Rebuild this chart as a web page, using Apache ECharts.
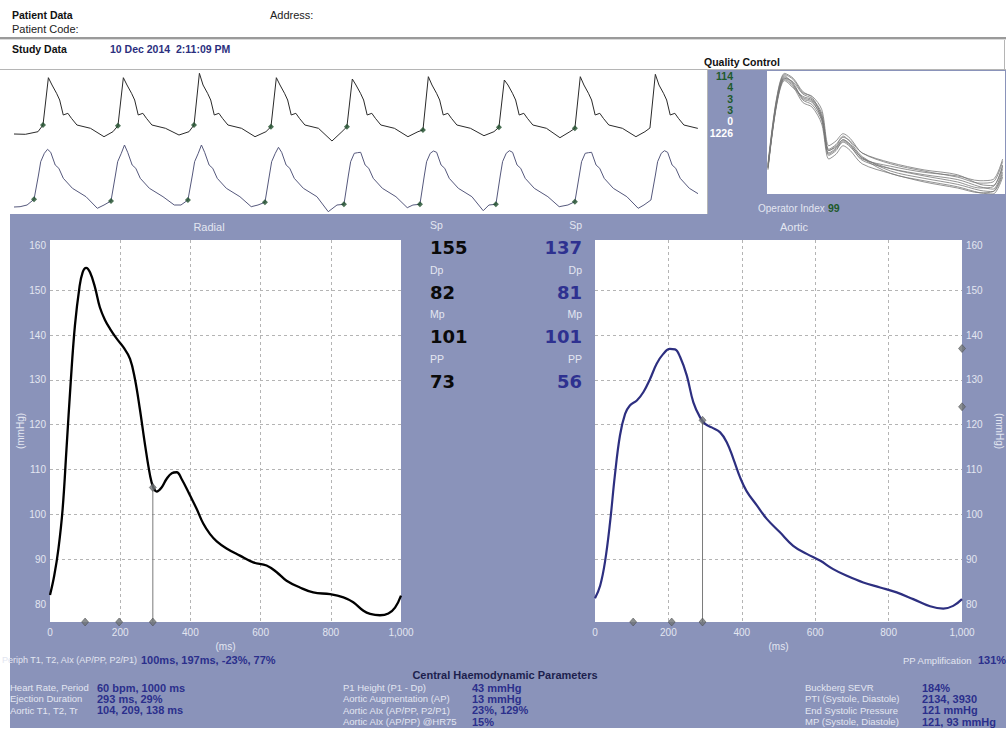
<!DOCTYPE html>
<html><head><meta charset="utf-8">
<script src="https://cdn.jsdelivr.net/npm/echarts@6/dist/echarts.min.js"></script>
<style>
html,body{margin:0;padding:0;background:#fff;}
body{width:1006px;height:730px;overflow:hidden;position:relative;}
.bg{position:absolute;}
#chart{position:absolute;left:0;top:0;width:1006px;height:730px;}
</style></head><body>
<div class="bg" style="left:10px;top:214px;width:996px;height:514px;background:#8a93ba"></div>
<div class="bg" style="left:708px;top:70px;width:298px;height:144px;background:#8a93ba"></div>
<div class="bg" style="left:767px;top:71px;width:238px;height:123px;background:#fff"></div>
<div class="bg" style="left:0;top:37px;width:1006px;height:2px;background:#9a9a9a"></div>
<div class="bg" style="left:0;top:39px;width:1006px;height:1px;background:#dadada"></div>
<div class="bg" style="left:0;top:69px;width:1006px;height:1px;background:#b5b5b5"></div>
<div class="bg" style="left:1004px;top:40px;width:1px;height:30px;background:#b5b5b5"></div>
<div class="bg" style="left:707px;top:69px;width:1px;height:145px;background:#b5b5b5"></div>
<div id="chart"></div>
<script>
// ---------- data ----------
const timeTicks = [0, 200, 400, 600, 800, 1000];
const pressureTicks = [80, 90, 100, 110, 120, 130, 140, 150, 160];

const radialTime = [0,12,24,36,47,59,71,84,93,103,114,128,142,157,171,190,209,228,242,256,271,285,294,304,318,332,347,361,375,399,418,437,456,475,503,541,579,617,646,674,712,750,798,836,864,893,912,940,964,983,1000];
const radialPressure = [82,86.3,92.3,101.2,114.6,129.5,142.1,150.7,154,155,154,150.7,146.2,143.3,141.4,139.2,137.3,134.7,130.2,123.5,115.4,108.7,106.1,105.1,106,107.9,109.2,109.4,107.9,104.2,101.2,97.9,95.6,94,92.4,90.8,89.3,88.6,87.1,85.2,83.7,82.6,82.2,81.5,80.4,78.5,77.8,77.5,77.9,79.2,81.9];

const aorticTime = [0,14,27,41,54,68,82,95,114,132,150,168,186,204,218,232,250,268,286,300,318,341,359,377,395,413,441,468,504,540,577,613,649,686,731,777,822,867,913,949,976,1000];
const aorticPressure = [81.3,84.1,89.3,98.2,108.6,117.6,122.4,124.3,125.4,127.3,130.2,133.6,135.8,136.9,136.8,135.1,131,125,121.7,120.2,119.4,118.3,116.1,112.4,108.3,105.2,102,99,96,93,91.2,89.7,87.8,86.3,84.8,83.7,82.6,81.1,79.5,79,79.6,81.1];

const radialMarkerTimes = [100, 197, 293];
const radialEndSystolic = 106;
const aorticMarkerTimes = [104, 209, 293];
const aorticEndSystolic = 121;
const aorticEdgeMarks = [137, 124];
const ejectionTime = 293;

const centralLabels = ['Sp', 'Dp', 'Mp', 'PP'];
const radialValues = [155, 82, 101, 73];
const aorticValues = [137, 81, 101, 56];

// raw pulse strip (upper = radial raw trace, lower = derived trace)
const stripTopLead = [[0, 2], [150, 1.7]];
const stripTopOnsets = [382, 1370, 2372, 3386, 4387, 5389, 6390, 7391, 8380];
const stripTopOffsets = [-66, 0, 71, 119, 179, 220, 267, 328, 375, 447, 626, 804];
const stripTopShape = [4.3, 11, 58.3, 51, 42.7, 36, 21, 22.7, 17.7, 11, 7.7, 1];
const stripTopFeet = [11, 10.3, 11, 9.3, 9.3, 6, 8.7, 7.7, 8];
const stripTopPeaks = [58.3, 58.3, 62.7, 58.3, 57, 59.3, 56, 59.3, 61.7];
const stripTopTroughs = [-0.7, 1, -0.7, -5, -0.7, 0.3, -1.7, -0.7, -1];

const stripBotLead = [[0, 5], [80, 5.3]];
const stripBotOnsets = [264, 1278, 2292, 3307, 4348, 5349, 6350, 7391, 8393];
const stripBotOffsets = [-92, 0, 59, 88, 136, 178, 220, 279, 327, 386, 506, 685, 834];
const stripBotShape = [7, 12.7, 37, 50.3, 58.7, 62.7, 59.7, 47, 43.7, 33.7, 23.7, 15.3, 5.3];
const stripBotFeet = [12.7, 11, 12, 9.7, 7.7, 7.7, 7.7, 10.3, 12];
const stripBotPeaks = [62.7, 67, 67, 64.7, 59.3, 61, 61.3, 59.3, 61.3];
const stripBotTroughs = [3.7, 7, 5.3, 0.3, 4.3, 1.3, 5.3, 3.7, 4];

// quality control overlay
const qcX = [0.4, 4, 7.4, 11, 15, 19, 23, 26, 29, 32, 35, 40, 52, 66, 80, 89.5, 95, 99];
const qcTrace1 = [22, 76, 97, 92, 79, 76, 63, 34, 38, 45, 41, 30, 21, 15, 10, 5, 6, 23];
const qcTrace2 = [24, 78, 99, 95, 84, 81, 70, 40, 44, 50, 46, 34, 25, 19, 14, 9, 10, 27];
const qcTrace3 = [20, 74, 95, 89, 76, 72, 58, 29, 33, 40, 36, 25, 17, 10, 5, 1, 2, 18];
const qcTrace4 = [23, 75, 96, 93, 83, 79, 67, 37, 41, 48, 43, 31, 19, 13, 8, 3, 2, 16];
const qcTrace5 = [21, 77, 98, 91, 78, 74, 61, 33, 37, 43, 39, 29, 23, 18, 15, 11, 12, 29];
const qcTrace6 = [22, 73, 94, 88, 81, 78, 65, 36, 40, 47, 44, 34, 26, 20, 16, 8, 7, 24];
const qcTrace7 = [25, 79, 100, 96, 85, 80, 64, 36, 39, 45, 41, 30, 17, 11, 6, 1, 0, 14];
const qcTrace8 = [22, 75, 96, 90, 80, 77, 62, 32, 36, 44, 40, 28, 21, 16, 12, 6, 4, 21];
const qcCounts = ['114', '4', '3', '3', '0', '1226'];
const operatorIndex = '99';

// ---------- build ----------
function buildStrip(lead, onsets, offsets, shape, overrides) {
  const out = lead.slice();
  onsets.forEach((on, b) => {
    offsets.forEach((dt, k) => {
      let v = shape[k];
      if (overrides[k]) v = overrides[k][b];
      out.push([on + dt, v]);
    });
  });
  return out;
}
const stripTopData = buildStrip(stripTopLead, stripTopOnsets, stripTopOffsets, stripTopShape, {1: stripTopFeet, 2: stripTopPeaks, 11: stripTopTroughs});
const stripBotData = buildStrip(stripBotLead, stripBotOnsets, stripBotOffsets, stripBotShape, {1: stripBotFeet, 5: stripBotPeaks, 12: stripBotTroughs});
const stripTopMarks = stripTopOnsets.slice(0, 8).map((t, i) => [t, stripTopFeet[i]]);
const stripBotMarks = stripBotOnsets.slice(0, 8).map((t, i) => [t, stripBotFeet[i]]);

const FONT = '"Liberation Sans", Arial, sans-serif';
const LIGHT = '#e3e6f1';
const NAVY = '#2b2f8c';
function txt(x, y, s, o) {
  o = o || {};
  const al = o.a || 'left';
  return {type: 'text', x: x, y: y, silent: true, z: 50,
    style: {text: s, fill: o.c || LIGHT, font: (o.w || 'normal') + ' ' + (o.s || 10) + 'px ' + (o.f || FONT),
      textAlign: al, align: al, textVerticalAlign: 'middle', verticalAlign: 'middle'}};
}

const graphics = [
  txt(12, 15, 'Patient Data', {w: 'bold', s: 10.5, c: '#111'}),
  txt(270, 15, 'Address:', {s: 11, c: '#222'}),
  txt(12, 29, 'Patient Code:', {s: 11, c: '#222'}),
  txt(12, 49, 'Study Data', {w: 'bold', s: 10.5, c: '#111'}),
  txt(110, 49, '10 Dec 2014\u00a0\u00a02:11:09 PM', {w: 'bold', s: 10.5, c: '#2b2f7e'}),
  txt(704, 62, 'Quality Control', {w: 'bold', s: 10.5, c: '#111'}),
  txt(758, 208, 'Operator Index', {s: 10, c: LIGHT}),
  txt(828, 208, operatorIndex, {w: 'bold', s: 10.5, c: '#1e5a2b'}),
  txt(209, 227, 'Radial', {s: 11, a: 'center'}),
  txt(794, 227, 'Aortic', {s: 11, a: 'center'}),
  txt(2, 660, 'Periph T1, T2, AIx (AP/PP, P2/P1)', {s: 9}),
  txt(141, 660, '100ms, 197ms, -23%, 77%', {w: 'bold', s: 11, c: NAVY}),
  txt(903, 660, 'PP Amplification', {s: 9.5}),
  txt(978, 660, '131%', {w: 'bold', s: 11, c: NAVY}),
  txt(505, 675, 'Central Haemodynamic Parameters', {w: 'bold', s: 11, c: '#1c1f4e', a: 'center'})
];
qcCounts.forEach((s, i) => {
  graphics.push(txt(733, 76 + i * 11.3, s, {w: 'bold', s: 10.5, a: 'right', c: i < 4 ? '#1e5a2b' : '#ffffff'}));
});
centralLabels.forEach((lab, i) => {
  const y0 = 225 + i * 44.6;
  graphics.push(txt(430, y0, lab, {s: 10.5}));
  graphics.push(txt(582, y0, lab, {s: 10.5, a: 'right'}));
  graphics.push(txt(430, y0 + 22.5, String(radialValues[i]), {w: 'bold', s: 18, f: '"DejaVu Sans", Verdana, sans-serif', c: '#0a0a0a'}));
  graphics.push(txt(582, y0 + 22.5, String(aorticValues[i]), {w: 'bold', s: 18, f: '"DejaVu Sans", Verdana, sans-serif', c: '#2e3190', a: 'right'}));
});
const leftBlock = [['Heart Rate, Period', '60 bpm, 1000 ms'], ['Ejection Duration', '293 ms, 29%'], ['Aortic T1, T2, Tr', '104, 209, 138 ms']];
const midBlock = [['P1 Height (P1 - Dp)', '43 mmHg'], ['Aortic Augmentation (AP)', '13 mmHg'], ['Aortic AIx (AP/PP, P2/P1)', '23%, 129%'], ['Aortic AIx (AP/PP) @HR75', '15%']];
const rightBlock = [['Buckberg SEVR', '184%'], ['PTI (Systole, Diastole)', '2134, 3930'], ['End Systolic Pressure', '121 mmHg'], ['MP (Systole, Diastole)', '121, 93 mmHg']];
function addBlock(rows, xl, xv) {
  rows.forEach((r, i) => {
    const y = 687.5 + i * 11.4;
    graphics.push(txt(xl, y, r[0], {s: 9.5}));
    graphics.push(txt(xv, y, r[1], {w: 'bold', s: 11, c: NAVY}));
  });
}
addBlock(leftBlock, 10, 97);
addBlock(midBlock, 343, 472);
addBlock(rightBlock, 805, 922);

const gridLine = {lineStyle: {color: '#b4b4b4', type: [3, 3], width: 1}};
function timeAxis(gi) {
  return {gridIndex: gi, type: 'value', min: 0, max: 1000, interval: 200,
    axisLine: {show: false}, axisTick: {show: false},
    axisLabel: {color: LIGHT, fontSize: 10, fontFamily: FONT, margin: 5,
      formatter: v => v.toLocaleString('en-US')},
    splitLine: Object.assign({show: true, showMinLine: false, showMaxLine: false}, gridLine),
    name: '(ms)', nameLocation: 'middle', nameGap: 15,
    nameTextStyle: {color: LIGHT, fontSize: 10, fontFamily: FONT}};
}
function pressureAxis(gi, pos) {
  return {gridIndex: gi, type: 'value', position: pos, min: 76, max: 161.2,
    axisLine: {show: false},
    axisTick: {show: false, customValues: pressureTicks},
    axisLabel: {customValues: pressureTicks, color: LIGHT, fontSize: 10, fontFamily: FONT, margin: 4},
    splitLine: Object.assign({show: true, showMinLine: false, showMaxLine: false}, gridLine),
    name: '(mmHg)', nameLocation: 'middle', nameGap: pos === 'left' ? 20 : 32,
    nameRotate: pos === 'left' ? 90 : -90,
    nameTextStyle: {color: LIGHT, fontSize: 10, fontFamily: FONT}};
}

const diamond = {type: 'scatter', symbol: 'diamond', symbolSize: [7, 8], clip: false, z: 12,
  itemStyle: {color: '#6e7376', borderColor: '#454545', borderWidth: 0.6}};

const series = [
  {type: 'line', xAxisIndex: 0, yAxisIndex: 0, data: stripTopData, symbol: 'none', lineStyle: {color: '#2a2a2a', width: 1}, z: 3},
  {type: 'scatter', xAxisIndex: 0, yAxisIndex: 0, data: stripTopMarks, symbol: 'diamond', symbolSize: 6, itemStyle: {color: '#1e4d2b'}, z: 4},
  {type: 'line', xAxisIndex: 1, yAxisIndex: 1, data: stripBotData, symbol: 'none', lineStyle: {color: '#55587c', width: 1}, z: 3},
  {type: 'scatter', xAxisIndex: 1, yAxisIndex: 1, data: stripBotMarks, symbol: 'diamond', symbolSize: 6, itemStyle: {color: '#1e4d2b'}, z: 4}
];
[qcTrace1, qcTrace2, qcTrace3, qcTrace4, qcTrace5, qcTrace6, qcTrace7, qcTrace8].forEach(tr => {
  series.push({type: 'line', xAxisIndex: 2, yAxisIndex: 2, data: qcX.map((x, i) => [x, tr[i]]),
    smooth: 0.3, symbol: 'none', lineStyle: {color: '#777', width: 0.8}, z: 3});
});
series.push(
  {type: 'line', xAxisIndex: 3, yAxisIndex: 3, data: [[ejectionTime, 76], [ejectionTime, radialEndSystolic]], symbol: 'none', lineStyle: {color: '#7a7a7a', width: 1}, z: 9},
  {type: 'line', xAxisIndex: 3, yAxisIndex: 3, data: radialTime.map((t, i) => [t, radialPressure[i]]), smooth: 0.4, symbol: 'none', lineStyle: {color: '#000', width: 2.3}, z: 10},
  Object.assign({}, diamond, {xAxisIndex: 3, yAxisIndex: 3, data: radialMarkerTimes.map(t => [t, 76]).concat([[ejectionTime, radialEndSystolic]])}),
  {type: 'line', xAxisIndex: 4, yAxisIndex: 4, data: [[ejectionTime, 76], [ejectionTime, aorticEndSystolic]], symbol: 'none', lineStyle: {color: '#7a7a7a', width: 1}, z: 9},
  {type: 'line', xAxisIndex: 4, yAxisIndex: 4, data: aorticTime.map((t, i) => [t, aorticPressure[i]]), smooth: 0.4, symbol: 'none', lineStyle: {color: '#2d2f80', width: 2.2}, z: 10},
  Object.assign({}, diamond, {xAxisIndex: 4, yAxisIndex: 4, data: aorticMarkerTimes.map(t => [t, 76]).concat([[ejectionTime, aorticEndSystolic]], aorticEdgeMarks.map(v => [1000, v]))})
);

const chart = echarts.init(document.getElementById('chart'), null, {renderer: 'svg', width: 1006, height: 730});
chart.setOption({
  animation: false,
  backgroundColor: 'transparent',
  grid: [
    {left: 14, top: 68, width: 683, height: 76},
    {left: 14, top: 140, width: 683, height: 72},
    {left: 767, top: 71, width: 238, height: 123},
    {left: 50, top: 240, width: 351, height: 382, show: true, backgroundColor: '#fff', borderWidth: 0},
    {left: 595, top: 240, width: 367, height: 382, show: true, backgroundColor: '#fff', borderWidth: 0}
  ],
  xAxis: [
    {gridIndex: 0, type: 'value', min: 0, max: 9000, show: false},
    {gridIndex: 1, type: 'value', min: 0, max: 9000, show: false},
    {gridIndex: 2, type: 'value', min: 0, max: 100, show: false},
    timeAxis(3),
    timeAxis(4)
  ],
  yAxis: [
    {gridIndex: 0, type: 'value', min: -8, max: 68, show: false},
    {gridIndex: 1, type: 'value', min: 0, max: 72, show: false},
    {gridIndex: 2, type: 'value', min: 0, max: 102, show: false},
    pressureAxis(3, 'left'),
    pressureAxis(4, 'right')
  ],
  series: series,
  graphic: {elements: graphics}
});
</script>
</body></html>
